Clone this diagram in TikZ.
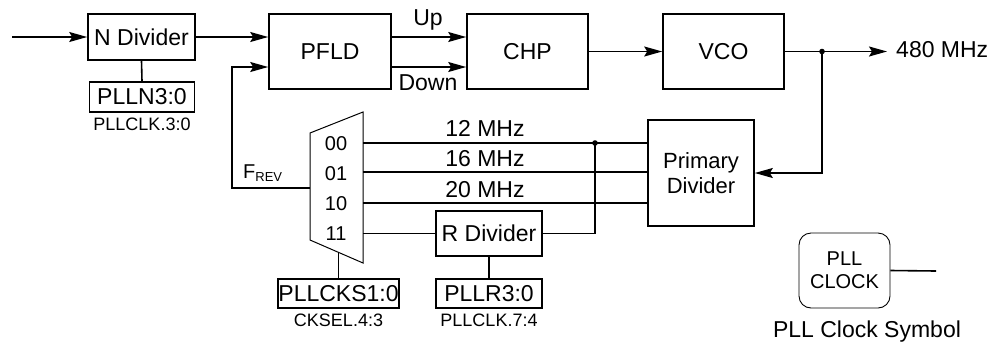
\documentclass[tikz,border=0pt]{standalone}
\usepackage{fontspec}
\setmainfont{Liberation Sans}
\usetikzlibrary{arrows.meta}
\begin{document}
\begin{tikzpicture}[x=1pt,y=-1pt,
  blk/.style={draw, line width=1.6pt, inner sep=0pt, font=\fontsize{23}{26}\selectfont},
  wire/.style={line width=1.6pt},
  arr/.style={wire, -{Stealth[length=18pt,width=10pt,inset=3pt]}},
  lbl/.style={anchor=base, inner sep=0pt, font=\fontsize{23}{26}\selectfont},
  mlbl/.style={anchor=base, inner sep=0pt, font=\fontsize{20}{23}\selectfont},
  slbl/.style={anchor=base, inner sep=0pt, font=\fontsize{18}{20}\selectfont},
  jdot/.style={fill, radius=2.8pt}]
\useasboundingbox (0,0) rectangle (1008,346);

% top chain
\coordinate (in) at (12,37);
\node[blk, minimum width=107pt, minimum height=46pt] (ndiv) at (141.5,37) {N Divider};
\node[blk, minimum width=105pt, minimum height=30pt] (plln) at (142,97) {PLLN3:0};
\node[slbl] (pllnl) at (142,130) {PLLCLK.3:0};
\node[blk, minimum width=122pt, minimum height=75pt] (pfld) at (330,51.5) {PFLD};
\node[blk, minimum width=121pt, minimum height=75pt] (chp) at (527.5,51.5) {CHP};
\node[blk, minimum width=121pt, minimum height=75pt] (vco) at (723.5,51.5) {VCO};
\coordinate (uy) at (0,37);
\coordinate (dy) at (0,67);

\draw[arr] (in) -- (ndiv.west);
\draw[wire] (ndiv.south) -- (plln.north);
\draw[arr] (ndiv.east) -- (pfld.west |- uy);
\draw[arr] (pfld.east |- uy) -- (chp.west |- uy);
\draw[arr] (pfld.east |- dy) -- (chp.west |- dy);
\node[lbl] (up) at (428,25) {Up};
\node[lbl] (down) at (428,90) {Down};
\draw[arr] (chp) -- (vco);

\coordinate (dot) at (822,51.5);
\coordinate (outp) at (887,51.5);
\draw[wire] (vco.east) -- (dot);
\draw[arr] (dot) -- (outp);
\fill[jdot] (dot) circle;
\node[lbl, anchor=base west] (f480) at (896,57) {480 MHz};

% primary divider
\node[blk, align=center, minimum width=106pt, minimum height=106pt, font=\fontsize{22}{25}\selectfont] (pdiv) at (701,173) {Primary\\Divider};
\draw[arr] (dot) |- (pdiv.east);

% mux
\coordinate (mtl) at (310,133);
\coordinate (mtr) at (363,112);
\coordinate (mbr) at (363,263);
\coordinate (mbl) at (310,240);
\draw[line width=1pt, line join=miter] (mtl) -- (mtr) -- (mbr) -- (mbl) -- cycle;
\node[mlbl] (s00) at (336,150) {00};
\node[mlbl] (s01) at (336,180) {01};
\node[mlbl] (s10) at (336,210) {10};
\node[mlbl] (s11) at (336,240) {11};

\coordinate (m00) at (363,143);
\coordinate (m01) at (363,172);
\coordinate (m10) at (363,203);
\coordinate (m11) at (363,233.5);
\draw[wire] (m00) -- (m00 -| pdiv.west);
\draw[wire] (m01) -- (m01 -| pdiv.west);
\draw[wire] (m10) -- (m10 -| pdiv.west);
\node[lbl] (f12) at (485,136) {12 MHz};
\node[lbl] (f16) at (485,166) {16 MHz};
\node[lbl] (f20) at (485,197) {20 MHz};

% R divider
\node[blk, minimum width=106pt, minimum height=45pt] (rdiv) at (489,233.5) {R Divider};
\draw[wire] (m11) -- (rdiv.west);
\coordinate (jn) at (595,143);
\draw[wire] (rdiv.east) -| (jn);
\fill[jdot] (jn) circle;
\node[blk, minimum width=106pt, minimum height=29pt] (pllr) at (489,293.5) {PLLR3:0};
\draw[wire] (rdiv.south) -- (pllr.north);
\node[slbl] (pllrl) at (489,326) {PLLCLK.7:4};

% select
\node[blk, minimum width=121pt, minimum height=29pt] (pllcks) at (338.5,293.5) {PLLCKS1:0};
\coordinate (mb) at (338.5,252.4);
\draw[wire] (mb) -- (pllcks.north);
\node[slbl] (ckl) at (338.5,326) {CKSEL.4:3};

% feedback
\coordinate (mf) at (310,188);
\coordinate (fb) at (232,188);
\draw[arr] (mf) -- (fb) |- (pfld.west |- dy);
\node[anchor=base west, inner sep=0pt, font=\fontsize{20}{23}\selectfont] (frev) at (243,178) {F\raisebox{-3.7pt}{\fontsize{13}{14}\selectfont REV}};

% PLL clock symbol
\node[draw, line width=0.9pt, rounded corners=12pt, minimum width=91pt, minimum height=75pt, align=center, inner sep=0pt, font=\fontsize{20}{23}\selectfont] (pllc) at (844.5,270.5) {PLL\\CLOCK};
\coordinate (pe) at (936,271);
\draw[wire] (pllc.east) -- (pe);
\node[lbl] (sym) at (867,337) {PLL Clock Symbol};
\end{tikzpicture}
\end{document}
